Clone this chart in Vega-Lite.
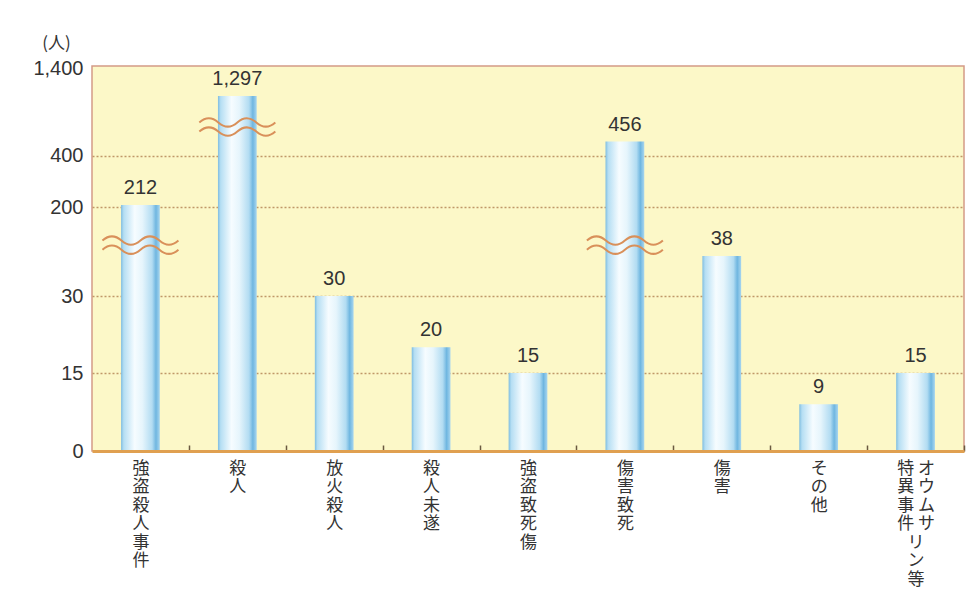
{
  "$schema": "https://vega.github.io/schema/vega-lite/v6.json",
  "width": 872,
  "height": 385,
  "autosize": {"type": "none"},
  "padding": {"left": 92, "top": 66, "right": 15, "bottom": 163},
  "background": "white",
  "config": {
    "view": {"fill": "#fcf8c8", "stroke": "#d49a86", "strokeWidth": 1.5},
    "font": "Noto Sans CJK JP"
  },
  "datasets": {
    "counts": [
      {"category": "強盗殺人事件", "value": 212},
      {"category": "殺人", "value": 1297},
      {"category": "放火殺人", "value": 30},
      {"category": "殺人未遂", "value": 20},
      {"category": "強盗致死傷", "value": 15},
      {"category": "傷害致死", "value": 456},
      {"category": "傷害", "value": 38},
      {"category": "その他", "value": 9},
      {"category": "オウムサリン等特異事件", "value": 15}
    ],
    "breaks": [
      {"category": "強盗殺人事件", "at": 74},
      {"category": "殺人", "at": 724},
      {"category": "傷害致死", "at": 74}
    ]
  },
  "layer": [
    {
      "data": {"name": "counts"},
      "mark": {
        "type": "bar",
        "fill": {
          "gradient": "linear",
          "x1": 0, "x2": 1, "y1": 0, "y2": 0,
          "stops": [
            {"offset": 0, "color": "#7fbde0"},
            {"offset": 0.07, "color": "#b5def3"},
            {"offset": 0.35, "color": "#f6fcff"},
            {"offset": 0.55, "color": "#e6f5fc"},
            {"offset": 0.8, "color": "#b2dcf2"},
            {"offset": 0.9, "color": "#6fb6e0"},
            {"offset": 1, "color": "#a8d6ef"}
          ]
        }
      },
      "encoding": {
        "x": {
          "field": "category",
          "type": "nominal",
          "sort": null,
          "scale": {
            "domain": ["強盗殺人事件", "殺人", "放火殺人", "殺人未遂", "強盗致死傷", "傷害致死", "傷害", "その他", "オウムサリン等特異事件"],
            "paddingInner": 0.6,
            "paddingOuter": 0.3
          },
          "axis": {
            "title": null,
            "zindex": 1,
            "labelAngle": 0,
            "labelExpr": "datum.label == 'オウムサリン等特異事件' ? ['特 オ', '異 ウ', '事 ム', '件 サ', '　 リ', '　 ン', '　 等'] : split(datum.label, '')",
            "labelFont": "Noto Sans CJK JP",
            "labelFontSize": 17,
            "labelLineHeight": 18.5,
            "labelBaseline": "top",
            "labelColor": "#333333",
            "labelPadding": 15,
            "labelOffset": -48.44,
            "ticks": true,
            "tickBand": "center",
            "tickOffset": 48.44,
            "tickSize": -6,
            "tickColor": "#6a5a40",
            "tickWidth": 1.5,
            "domainColor": "#e0a050",
            "domainWidth": 3,
            "grid": false
          }
        },
        "y": {
          "field": "value",
          "type": "quantitative",
          "scale": {
            "domain": [0, 15, 30, 38, 200, 212, 400, 456, 1297, 1400],
            "range": [385, 307, 230, 190, 141, 139, 89.5, 75.5, 30, 2],
            "nice": false,
            "zero": false
          },
          "axis": {
            "values": [0, 15, 30, 200, 400, 1400],
            "format": ",.0f",
            "labelFont": "Liberation Sans",
            "labelFontSize": 20,
            "labelColor": "#333333",
            "labelPadding": 9,
            "ticks": false,
            "domain": false,
            "grid": true,
            "gridColor": {"condition": {"test": "datum.value === 0 || datum.value === 1400", "value": "transparent"}, "value": "#c09868"},
            "gridDash": [2, 2],
            "gridWidth": 1.5,
            "title": "(人)",
            "titleFont": "Noto Sans CJK JP",
            "titleFontSize": 17,
            "titleFontWeight": "normal",
            "titleColor": "#333333",
            "titleAngle": 0,
            "titleAlign": "center",
            "titleBaseline": "middle",
            "titleX": -36,
            "titleY": -23
          }
        }
      }
    },
    {
      "data": {"name": "counts"},
      "mark": {"type": "text", "dy": -7, "baseline": "bottom", "font": "Liberation Sans", "fontSize": 20, "color": "#333333"},
      "encoding": {
        "x": {"field": "category", "type": "nominal", "sort": null},
        "y": {"field": "value", "type": "quantitative"},
        "text": {"field": "value", "type": "quantitative", "format": ","}
      }
    },
    {
      "data": {"name": "breaks"},
      "mark": {
        "type": "point",
        "shape": "M-1,-0.12 C-0.833,-0.267 -0.667,-0.267 -0.5,-0.12 C-0.333,0.027 -0.167,0.027 0,-0.12 C0.167,-0.267 0.333,-0.267 0.5,-0.12 C0.667,0.027 0.833,0.027 1,-0.12 M-1,0.12 C-0.833,-0.027 -0.667,-0.027 -0.5,0.12 C-0.333,0.267 -0.167,0.267 0,0.12 C0.167,-0.027 0.333,-0.027 0.5,0.12 C0.667,0.267 0.833,0.267 1,0.12",
        "size": 5776,
        "filled": false,
        "stroke": "#d9905a",
        "strokeWidth": 2,
        "opacity": 1
      },
      "encoding": {
        "x": {"field": "category", "type": "nominal", "sort": null},
        "y": {"field": "at", "type": "quantitative"}
      }
    }
  ]
}
